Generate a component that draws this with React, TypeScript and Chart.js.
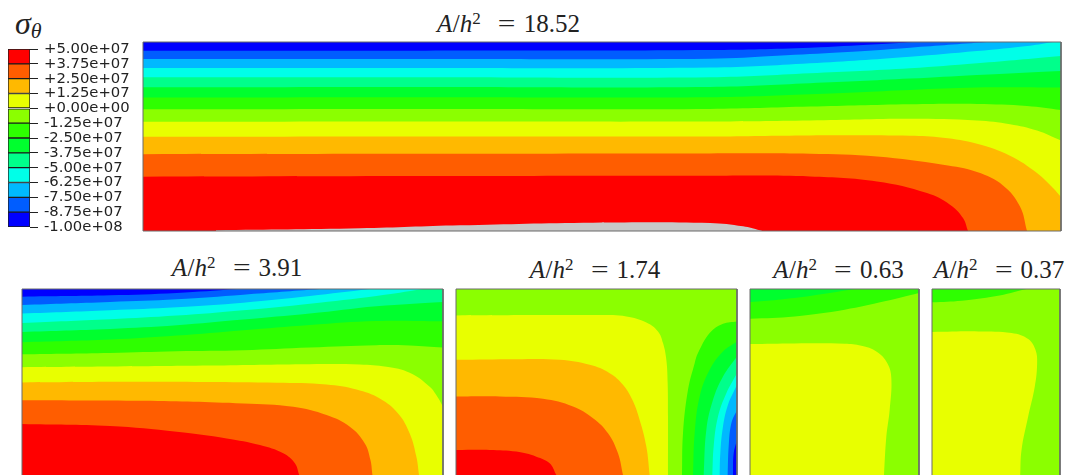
import React, { useEffect, useRef } from "react";
import { Chart, registerables } from "chart.js";

Chart.register(...registerables);

type Pt = [number, number];
type Corner = "tl" | "tr" | "br" | "bl";

// Contour colours, low to high
const BLUE0 = "#0000ff";
const BLUE1 = "#005dff";
const BLUE2 = "#00b9ff";
const CYAN = "#00ffe8";
const TEAL = "#00ff8b";
const GREEN0 = "#00ff2e";
const GREEN1 = "#2eff00";
const LIME = "#8bff00";
const YELLOW = "#e8ff00";
const AMBER = "#ffb900";
const ORANGE = "#ff5d00";
const RED = "#ff0000";
const GREY = "#c8c8c8";

const barLevels = [-1e8, -8.75e7, -7.5e7, -6.25e7, -5e7, -3.75e7, -2.5e7, -1.25e7, 0, 1.25e7, 2.5e7, 3.75e7, 5e7];
const barColors = [BLUE0, BLUE1, BLUE2, CYAN, TEAL, GREEN0, GREEN1, LIME, YELLOW, AMBER, ORANGE, RED];
const barTicks = ["-1.00e+08", "-8.75e+07", "-7.50e+07", "-6.25e+07", "-5.00e+07", "-3.75e+07", "-2.50e+07", "-1.25e+07", "+0.00e+00", "+1.25e+07", "+2.50e+07", "+3.75e+07", "+5.00e+07"];

// A/h^2 = 18.52
const p1c1: Pt[] = [[0,152],[283,152],[567,150],[667,143],[734,133],[770,126]];
const p1c2: Pt[] = [[0,177],[283,177],[567,176],[634,167],[700,157],[767,143],[844,126]];
const p1c3: Pt[] = [[0,204],[283,204],[567,203],[667,190],[767,170],[834,153],[887,137],[910,126]];
const p1c4: Pt[] = [[0,232],[283,232],[567,232],[667,220],[767,205],[834,190],[918,168]];
const p1c5: Pt[] = [[0,262],[283,261],[567,261],[667,250],[767,236],[834,225],[918,213]];
const p1c6: Pt[] = [[0,293],[283,292],[567,292],[667,283],[767,270],[834,263],[918,263]];
const p1c7: Pt[] = [[0,328],[283,327],[567,327],[667,320],[767,313],[834,312],[884,318],[918,330]];
const p1c8: Pt[] = [[0,366],[283,365],[567,365],[667,362],[767,357],[834,362],[867,373],[894,392],[918,422]];
const p1c9: Pt[] = [[0,411],[283,410],[567,410],[667,407],[767,408],[800,414],[834,432],[867,468],[894,520],[910,565],[918,592]];
const p1c10: Pt[] = [[0,463],[283,462],[567,461],[667,462],[734,470],[800,495],[834,517],[860,557],[877,620],[884,694]];
const p1c11: Pt[] = [[0,531],[283,529],[567,528],[667,530],[734,545],[784,580],[807,615],[820,655],[825,694]];
const p1grey: Pt[] = [[73,692],[217,686],[317,677],[450,669],[567,670],[600,680],[617,692],[619,694],[73,694]];

// A/h^2 = 3.91
const p2c1: Pt[] = [[35,139],[300,135],[500,128],[680,116]];
const p2c2: Pt[] = [[35,164],[300,155],[500,147],[700,133],[930,116]];
const p2c3: Pt[] = [[35,190],[300,180],[500,171],[700,157],[900,137],[1080,116]];
const p2c4: Pt[] = [[35,218],[300,207],[500,196],[700,180],[900,160],[1100,137],[1240,116]];
const p2c5: Pt[] = [[35,245],[300,236],[500,225],[700,208],[900,190],[1100,168],[1300,155]];
const p2c6: Pt[] = [[35,276],[300,268],[500,256],[700,240],[900,224],[1100,212],[1300,213]];
const p2c7: Pt[] = [[35,312],[300,308],[500,303],[700,300],[900,292],[1100,285],[1200,286],[1300,292]];
const p2c8: Pt[] = [[35,351],[300,349],[600,346],[900,342],[1050,343],[1130,350],[1200,368],[1260,410],[1285,443],[1300,470]];
const p2c9: Pt[] = [[35,397],[400,395],[800,398],[950,403],[1040,418],[1110,445],[1165,490],[1200,550],[1220,620],[1228,675]];
const p2c10: Pt[] = [[35,450],[400,452],[700,460],[850,470],[950,495],[1020,530],[1065,580],[1082,630],[1088,675]];
const p2c11: Pt[] = [[35,522],[300,528],[500,545],[650,565],[750,585],[820,610],[855,640],[868,675]];

// A/h^2 = 1.74
const p3yellow: Pt[] = [[19,197],[300,196],[450,196],[530,200],[590,218],[625,245],[640,280],[650,330],[654,400],[655,500],[655,675]];
const p3amber: Pt[] = [[19,330],[200,328],[330,330],[420,345],[480,370],[520,405],[548,450],[570,510],[590,590],[600,675]];
const p3orange: Pt[] = [[19,440],[150,440],[280,447],[370,470],[430,505],[475,550],[505,610],[520,675]];
const p3red: Pt[] = [[19,600],[120,600],[200,605],[260,620],[300,640],[320,675]];
const p3g1: Pt[] = [[862,215],[820,222],[780,250],[745,310],[735,340],[715,420],[700,550],[697,675]];
const p3g0: Pt[] = [[862,275],[820,305],[780,360],[750,440],[735,550],[730,675]];
const p3teal: Pt[] = [[862,320],[820,380],[790,450],[770,540],[762,675]];
const p3cyan: Pt[] = [[862,370],[830,430],[805,500],[792,590],[788,675]];
const p3b2: Pt[] = [[862,405],[835,465],[820,530],[812,610],[810,675]];
const p3b1: Pt[] = [[862,480],[845,520],[837,590],[834,675]];
const p3b0: Pt[] = [[862,570],[852,610],[850,675]];

// A/h^2 = 0.63
const p4g1: Pt[] = [[16,207],[150,200],[300,180],[420,155],[523,130]];
const p4g0: Pt[] = [[16,157],[100,150],[200,138],[330,118]];
const p4yellow: Pt[] = [[16,283],[150,281],[300,282],[350,288],[395,305],[428,340],[440,385],[435,480],[425,560],[418,675]];

// A/h^2 = 0.37
const p5g1: Pt[] = [[560,158],[650,153],[750,140],[845,118]];
const p5yellow: Pt[] = [[560,247],[700,245],[800,250],[850,268],[872,300],[877,340],[870,410],[850,500],[830,600],[826,675]];

type Region = { color: string; curve: Pt[]; close: Corner[]; };
type Extent = { xMin: number; xMax: number; yMin: number; yMax: number };
type Box = { left: number; top: number; right: number; bottom: number };

const below: Corner[] = ["br", "bl"];
const left: Corner[] = ["bl"];
const overTop: Corner[] = ["tr", "br", "bl"];
const corner: Corner[] = ["br"];
const topLeft: Corner[] = ["tl"];
const topBand: Corner[] = ["tr", "tl"];

const panels: { title: string; titleX: number; titleY: number; box: Box; extent: Extent; base: string; closed: boolean; regions: Region[] }[] = [
  {
    title: "18.52", titleX: 508.5, titleY: 24,
    box: { left: 143, top: 42, right: 1061, bottom: 231 },
    extent: { xMin: 0, xMax: 918, yMin: 126, yMax: 694 },
    base: BLUE0, closed: true,
    regions: [
      { color: BLUE1, curve: p1c1, close: overTop },
      { color: BLUE2, curve: p1c2, close: overTop },
      { color: CYAN, curve: p1c3, close: overTop },
      { color: TEAL, curve: p1c4, close: below },
      { color: GREEN0, curve: p1c5, close: below },
      { color: GREEN1, curve: p1c6, close: below },
      { color: LIME, curve: p1c7, close: below },
      { color: YELLOW, curve: p1c8, close: below },
      { color: AMBER, curve: p1c9, close: below },
      { color: ORANGE, curve: p1c10, close: left },
      { color: RED, curve: p1c11, close: left },
      { color: GREY, curve: p1grey, close: [] },
    ],
  },
  {
    title: "3.91", titleX: 237, titleY: 268,
    box: { left: 22, top: 289, right: 443, bottom: 475 },
    extent: { xMin: 35, xMax: 1300, yMin: 116, yMax: 675 },
    base: BLUE0, closed: false,
    regions: [
      { color: BLUE1, curve: p2c1, close: overTop },
      { color: BLUE2, curve: p2c2, close: overTop },
      { color: CYAN, curve: p2c3, close: overTop },
      { color: TEAL, curve: p2c4, close: overTop },
      { color: GREEN0, curve: p2c5, close: below },
      { color: GREEN1, curve: p2c6, close: below },
      { color: LIME, curve: p2c7, close: below },
      { color: YELLOW, curve: p2c8, close: below },
      { color: AMBER, curve: p2c9, close: left },
      { color: ORANGE, curve: p2c10, close: left },
      { color: RED, curve: p2c11, close: left },
    ],
  },
  {
    title: "1.74", titleX: 595, titleY: 270,
    box: { left: 456, top: 289, right: 737, bottom: 475 },
    extent: { xMin: 19, xMax: 862, yMin: 118, yMax: 675 },
    base: LIME, closed: false,
    regions: [
      { color: YELLOW, curve: p3yellow, close: left },
      { color: AMBER, curve: p3amber, close: left },
      { color: ORANGE, curve: p3orange, close: left },
      { color: RED, curve: p3red, close: left },
      { color: GREEN1, curve: p3g1, close: corner },
      { color: GREEN0, curve: p3g0, close: corner },
      { color: TEAL, curve: p3teal, close: corner },
      { color: CYAN, curve: p3cyan, close: corner },
      { color: BLUE2, curve: p3b2, close: corner },
      { color: BLUE1, curve: p3b1, close: corner },
      { color: BLUE0, curve: p3b0, close: corner },
    ],
  },
  {
    title: "0.63", titleX: 838.5, titleY: 270,
    box: { left: 750, top: 289, right: 919, bottom: 475 },
    extent: { xMin: 16, xMax: 523, yMin: 118, yMax: 675 },
    base: LIME, closed: false,
    regions: [
      { color: GREEN1, curve: p4g1, close: topBand },
      { color: GREEN0, curve: p4g0, close: topLeft },
      { color: YELLOW, curve: p4yellow, close: left },
    ],
  },
  {
    title: "0.37", titleX: 999, titleY: 270,
    box: { left: 932, top: 289, right: 1060, bottom: 475 },
    extent: { xMin: 560, xMax: 946, yMin: 118, yMax: 675 },
    base: LIME, closed: false,
    regions: [
      { color: GREEN1, curve: p5g1, close: topLeft },
      { color: YELLOW, curve: p5yellow, close: left },
    ],
  },
];

const PAD = 2;

function cornerPt(c: Corner, e: Extent): Pt {
  return [c[1] === "l" ? e.xMin : e.xMax, c[0] === "t" ? e.yMin : e.yMax];
}

function toXY(points: Pt[]) {
  return points.map(([x, y]) => ({ x, y }));
}

function regionPoints(r: Region, e: Extent): Pt[] {
  const first = r.curve[0];
  const last = r.curve[r.curve.length - 1];
  const out: Pt[] = [first, ...r.curve, last];
  r.close.forEach((c) => {
    const p = cornerPt(c, e);
    out.push(p, p);
  });
  out.push(first, first);
  return out;
}

function Panel({ cfg }: { cfg: (typeof panels)[number] }) {
  const ref = useRef<HTMLCanvasElement>(null);
  const { box, extent: e } = cfg;
  useEffect(() => {
    const fillSet = (color: string, pts: Pt[]) => ({
      data: toXY(pts),
      backgroundColor: color,
      borderWidth: 0,
      pointRadius: 0,
      fill: "shape",
      tension: 0.4,
    });
    const rect: Pt[] = [[e.xMin, e.yMin], [e.xMax, e.yMin], [e.xMax, e.yMax], [e.xMin, e.yMax], [e.xMin, e.yMin]];
    const frame: Pt[] = cfg.closed
      ? rect
      : [[e.xMin, e.yMax], [e.xMin, e.yMin], [e.xMax, e.yMin], [e.xMax, e.yMax]];
    const fills = [
      { ...fillSet(cfg.base, rect), tension: 0 },
      ...cfg.regions.map((r) => fillSet(r.color, regionPoints(r, e))),
    ];
    const chart = new Chart(ref.current!, {
      type: "line",
      data: {
        // the filler paints the last dataset first
        datasets: [
          {
            data: toXY(frame),
            borderColor: "#6a6a6a",
            borderWidth: 1,
            pointRadius: 0,
            fill: false,
            tension: 0,
            clip: false,
          },
          ...fills.reverse(),
        ] as any,
      },
      options: {
        animation: false,
        responsive: false,
        events: [],
        layout: { padding: PAD },
        plugins: { legend: { display: false }, tooltip: { enabled: false } },
        scales: {
          x: { type: "linear", display: false, min: e.xMin, max: e.xMax },
          y: { type: "linear", display: false, min: e.yMin, max: e.yMax, reverse: true },
        },
      },
    });
    return () => chart.destroy();
  }, []);
  return (
    <canvas
      ref={ref}
      width={box.right - box.left + PAD * 2}
      height={box.bottom - box.top + PAD * 2}
      style={{ position: "absolute", left: box.left - PAD, top: box.top - PAD, display: "block" }}
    />
  );
}

function ColorBar() {
  const ref = useRef<HTMLCanvasElement>(null);
  useEffect(() => {
    const chart = new Chart(ref.current!, {
      type: "bar",
      data: {
        labels: ["sigma"],
        datasets: barColors.map((c, i) => ({
          data: [[barLevels[i], barLevels[i + 1]]],
          backgroundColor: c,
          borderColor: "#1c1c1c",
          borderWidth: 1,
          borderSkipped: false,
          grouped: false,
          barPercentage: 1,
          categoryPercentage: 1,
        })) as any,
      },
      options: {
        animation: false,
        responsive: false,
        events: [],
        layout: { padding: { left: 8, top: 0, bottom: 0, right: 0 } },
        plugins: { legend: { display: false }, tooltip: { enabled: false } },
        scales: {
          x: { display: false },
          y: {
            type: "linear",
            position: "right",
            min: barLevels[0],
            max: barLevels[barLevels.length - 1],
            afterFit: (s: any) => { s.width = 110; s.paddingTop = 9; s.paddingBottom = 9; },
            afterBuildTicks: (s: any) => { s.ticks = barLevels.map((value) => ({ value })); },
            border: { display: false },
            grid: { drawOnChartArea: false, tickLength: 8, color: "#222222", lineWidth: 1 },
            ticks: {
              autoSkip: false,
              padding: 6,
              color: "#222222",
              font: { family: "'DejaVu Sans'", size: 14.8 },
              callback: (_v: any, i: number) => barTicks[i],
            },
          },
        },
      },
    });
    return () => chart.destroy();
  }, []);
  return <canvas ref={ref} width={140} height={196} style={{ position: "absolute", left: 0, top: 40, display: "block" }} />;
}

function Title({ value, x, y }: { value: string; x: number; y: number }) {
  return (
    <div style={{ position: "absolute", left: x, top: y, transform: "translate(-50%,-50%)", whiteSpace: "nowrap", fontFamily: "'Liberation Serif'", fontSize: 25, color: "#222", lineHeight: "30px" }}>
      <i style={{ letterSpacing: 0.5 }}>A</i>/<i>h</i>
      <sup style={{ fontSize: 17, lineHeight: 0, verticalAlign: "0.5em" }}>2</sup>
      <span style={{ display: "inline-block", transform: "scaleX(1.25)", margin: "0 10px 0 19px" }}>=</span>
      {value}
    </div>
  );
}

export default function App() {
  return (
    <div style={{ position: "fixed", left: 0, top: 0, width: 1070, height: 475, overflow: "hidden", background: "#fff", filter: "blur(0.4px)" }}>
      <div style={{ position: "absolute", left: 15, top: 7, fontFamily: "'Liberation Serif'", fontStyle: "italic", fontSize: 32, lineHeight: "32px", color: "#222" }}>
        σ<sub style={{ fontSize: 22, lineHeight: 0, verticalAlign: "-0.2em" }}>θ</sub>
      </div>
      <ColorBar />
      {panels.map((p) => (
        <React.Fragment key={p.title}>
          <Title value={p.title} x={p.titleX} y={p.titleY} />
          <Panel cfg={p} />
        </React.Fragment>
      ))}
    </div>
  );
}
